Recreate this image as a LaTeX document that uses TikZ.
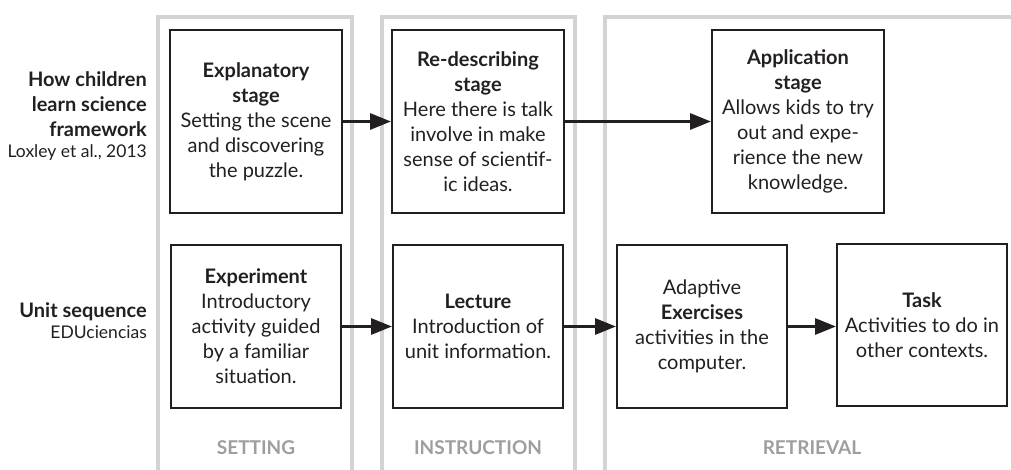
\documentclass[tikz,border=0pt]{standalone}
\usepackage{fontspec}
\setmainfont{Lato}
\usetikzlibrary{arrows.meta}
\definecolor{panel}{HTML}{D1D3D4}
\definecolor{ink}{HTML}{231F20}
\definecolor{hdr}{HTML}{9C9EA0}
\begin{document}
\begin{tikzpicture}[x=1pt,y=-1pt,
  stagebox/.style={draw=ink, line width=2pt, align=center, text=ink, inner sep=0pt,
    font=\fontsize{20}{25}\selectfont},
  toprow/.style={stagebox, minimum width=172pt, minimum height=183pt},
  botrow/.style={stagebox, minimum width=170pt, minimum height=163pt},
  flow/.style={draw=ink, line width=3pt, -{Triangle[length=21pt,width=16pt]}},
  panelline/.style={draw=panel, line width=4pt, line join=miter},
  colhead/.style={anchor=base, text=hdr, font=\fontsize{19}{22}\selectfont\bfseries},
  rowhead/.style={anchor=base east, inner sep=0pt, text=ink, font=\fontsize{20}{25}\selectfont\bfseries},
  rowsub/.style={anchor=base east, inner sep=0pt, text=ink, font=\fontsize{17.5}{20}\selectfont}]
\useasboundingbox (0,0) rectangle (1011,470);
% column panels
\draw[panelline] (158,472) -- (158,17) -- (352,17) -- (352,472);
\draw[panelline] (381.5,472) -- (381.5,17) -- (575,17) -- (575,472);
\draw[panelline] (605,472) -- (605,17) -- (1013,17);
% column headers
\node[colhead] (hset) at (256,454) {SETTING};
\node[colhead] (hins) at (478,454) {INSTRUCTION};
\node[colhead] (hret) at (812,454) {RETRIEVAL};
% row headers
\node[rowhead] (r1a) at (147,87) {How children};
\node[rowhead] (r1b) at (147,112) {learn science};
\node[rowhead] (r1c) at (147,137) {framework};
\node[rowsub] (r1d) at (147,158) {Loxley et al., 2013};
\node[rowhead] (r2a) at (147,317) {Unit sequence};
\node[rowsub] (r2b) at (147,338) {EDUciencias};
% top row
\node[toprow] (expl) at (256,121.5) {\textbf{Explanatory}\\\textbf{stage}\\Setting the scene\\and discovering\\the puzzle.};
\node[toprow] (redesc) at (478,121.5) {\textbf{Re-describing}\\\textbf{stage}\\Here there is talk\\involve in make\\sense of scientif-\\ic ideas.};
\node[toprow] (appl) at (798,121.5) {\textbf{Application}\\\textbf{stage}\\Allows kids to try\\out and expe-\\rience the new\\knowledge.};
% bottom row
\node[botrow] (exper) at (256,326.5) {\textbf{Experiment}\\Introductory\\activity guided\\by a familiar\\situation.};
\node[botrow] (lect) at (478,326.5) {\textbf{Lecture}\\Introduction of\\unit information.};
\node[botrow] (adapt) at (702,326.5) {Adaptive\\\textbf{Exercises}\\activities in the\\computer.};
\node[botrow, minimum height=162pt] (task) at (922,325) {\textbf{Task}\\Activities to do in\\other contexts.};
% connectors
\draw[flow] (expl.east) -- (redesc.west);
\draw[flow] (redesc.east) -- (appl.west);
\draw[flow] (exper.east) -- (lect.west);
\draw[flow] (lect.east) -- (adapt.west);
\draw[flow] (adapt.east) -- (adapt.east -| task.west);
\end{tikzpicture}
\end{document}
